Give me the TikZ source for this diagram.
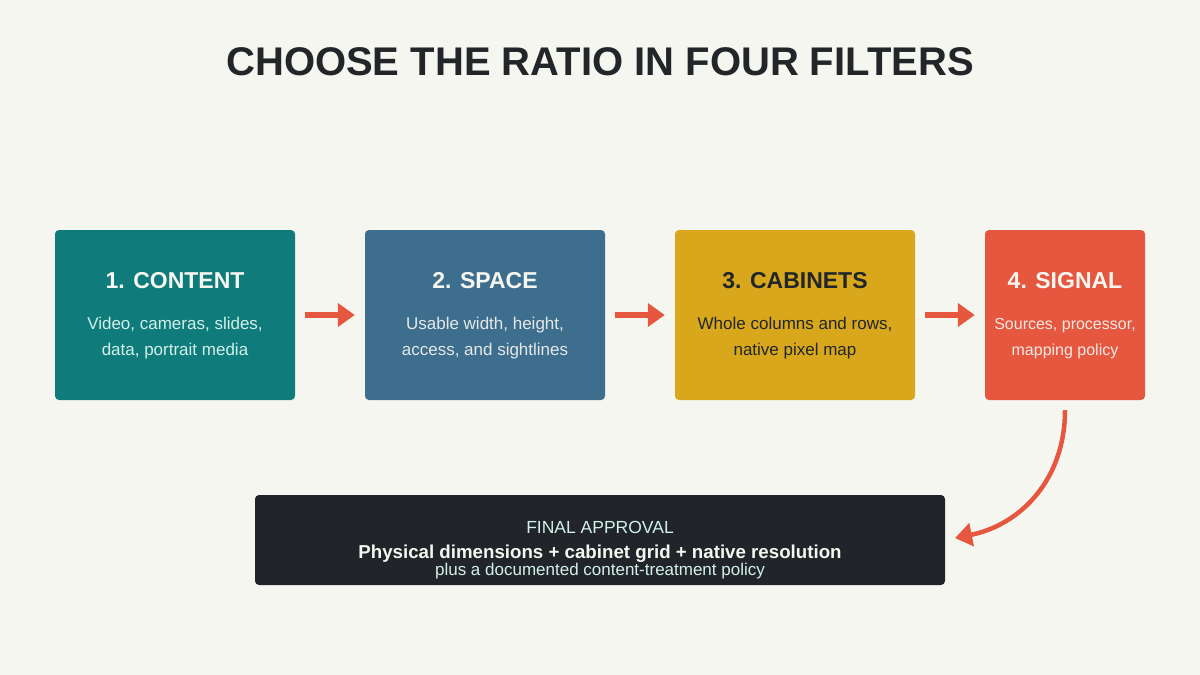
\documentclass[tikz,border=0pt]{standalone}
\usepackage{fontspec}
\setmainfont{Liberation Sans}
\usetikzlibrary{arrows.meta}

\definecolor{paper}{HTML}{F6F6F1}
\definecolor{ink}{HTML}{222629}
\definecolor{tealbox}{HTML}{0F7C7B}
\definecolor{bluebox}{HTML}{3E6E8E}
\definecolor{goldbox}{HTML}{D8A71B}
\definecolor{redbox}{HTML}{E5573F}
\definecolor{darkbox}{HTML}{212529}
\definecolor{mint}{HTML}{D2F0E9}

\begin{document}
\begin{tikzpicture}[x=1pt,y=-1pt]
    		\newcommand{\rowy}{315}
    		\newcommand{\heady}{288}
    		\newcommand{\bodyy}{355.5} % baseline of the second body line
    		
    		% set the styles of the boxes and the arrows
    		\tikzset{
    			stage/.style={
    				rounded corners=4pt,
    				minimum width=240pt,
    				minimum height=170pt,
    				inner sep=0pt
    				},
    			stagehead/.style={
    				anchor=base,
    				font=\fontsize{23}{26}\bfseries
    				},
    			stagebody/.style={
    				anchor=base,
    				align=center,
    				font=\fontsize{17}{26}\selectfont
    				},
    			flow/.style={
    				draw=redbox,
    				line width=5.5pt,
    				shorten <=10pt,
    				shorten >=10pt,
    				-{Triangle[length=17pt,width=23pt]}
    				}
    		}
    		
    		% background and title
    		\fill[paper] (0,0) rectangle (1200,675);
    		\node[anchor=base, text=ink, font=\fontsize{40}{44}\bfseries] (title) at (600,75) {CHOOSE THE RATIO IN FOUR FILTERS};
    		
    		% filters
    		\node[stage, fill=tealbox] (content) at (175,\rowy) {};
    		\node[stage, fill=bluebox] (space) at (485,\rowy) {};
    		\node[stage, fill=goldbox] (cabinets) at (795,\rowy) {};
    		\node[stage, fill=redbox, minimum width=160pt] (signal) at (1065,\rowy) {};
    		
    		\node[stagehead, text=paper] (content-head) at (175,\heady) {1. CONTENT};
    		\node[stagehead, text=paper] (space-head) at (485,\heady) {2. SPACE};
    		\node[stagehead, text=ink] (cabinets-head) at (795,\heady) {3. CABINETS};
    		\node[stagehead, text=paper] (signal-head) at (1065,\heady) {4. SIGNAL};
    		
    		\node[stagebody, text=mint] (content-body) at (175,\bodyy) {Video, cameras, slides,\\data, portrait media};
    		\node[stagebody, text=paper!90!bluebox] (space-body) at (485,\bodyy) {Usable width, height,\\access, and sightlines};
    		\node[stagebody, text=ink] (cabinets-body) at (795,\bodyy) {Whole columns and rows,\\native pixel map};
    		\node[stagebody, text=paper!92!redbox, font=\fontsize{16}{26}\selectfont] (signal-body) at (1065,\bodyy) {Sources, processor,\\mapping policy};
    		
    		% final approval
    		\node[rounded corners=4pt, fill=darkbox, minimum width=690pt, minimum height=90pt, inner sep=0pt] (approval) at (600,540) {};
    		\node[anchor=base, text=mint, font=\fontsize{17.5}{20}\selectfont] (approval-head) at (600,533) {FINAL APPROVAL};
    		\node[anchor=base, text=paper, font=\fontsize{18.7}{20}\bfseries] (approval-main) at (600,558) {Physical dimensions + cabinet grid + native resolution};
    		\node[anchor=base, text=mint, font=\fontsize{17}{20}\selectfont] (approval-note) at (600,575) {plus a documented content-treatment policy};
    		
    		% arrows
    		\draw[flow] (content) -- (space);
    		\draw[flow] (space) -- (cabinets);
    		\draw[flow] (cabinets) -- (signal);
    		\draw[flow, line width=4.5pt] (signal.south) .. controls (1065,480) and (1020,525) .. (approval.east);
    		
\end{tikzpicture}
\end{document}
